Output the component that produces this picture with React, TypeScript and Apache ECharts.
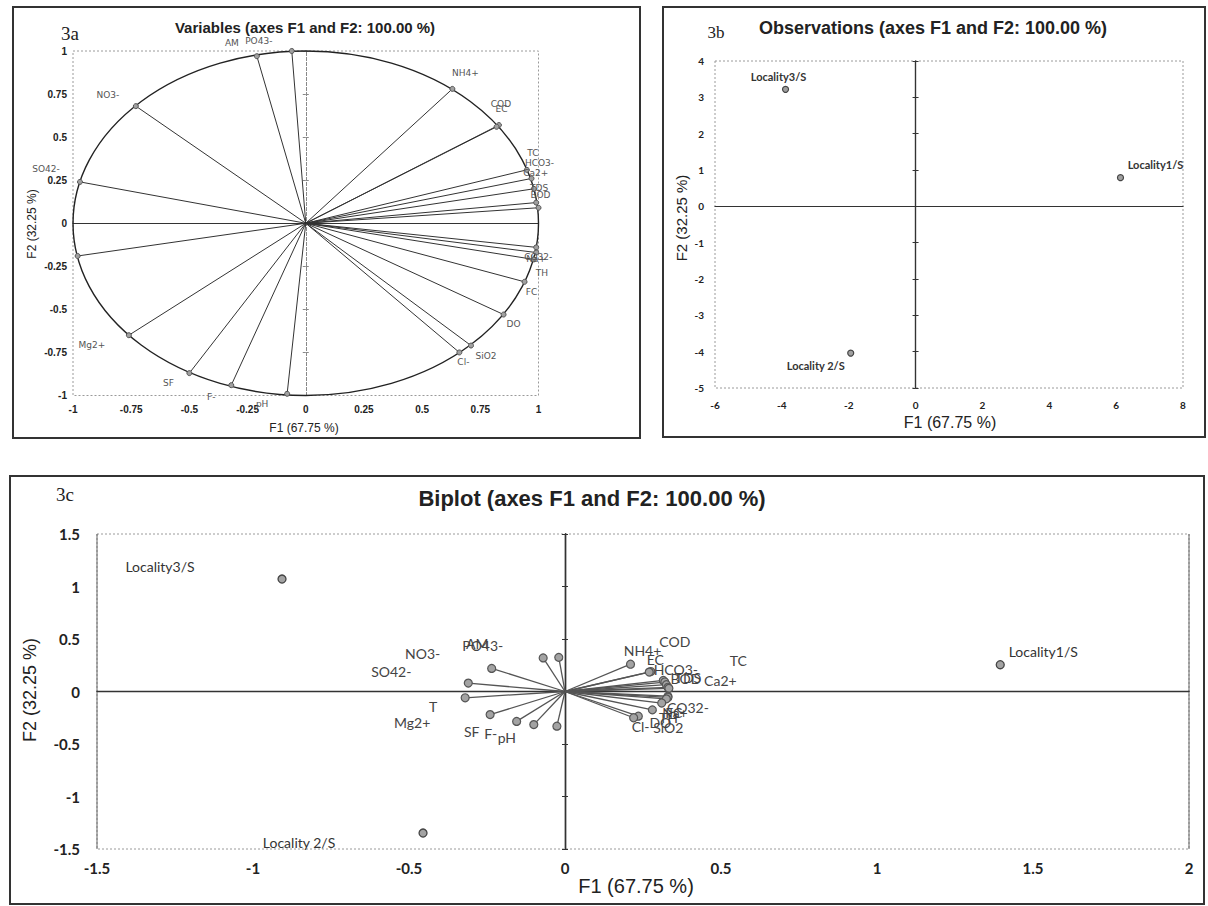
import React, { useEffect, useRef } from "react";
import * as echarts from "echarts";

// ---------- data ----------
const varNames = [
  "AM", "PO43-", "NO3-", "SO42-", "T", "Mg2+", "SF", "F-", "pH",
  "NH4+", "COD", "EC", "TC", "HCO3-", "Ca2+", "TDS", "BOD", "CO32-", "Na+", "TH", "FC", "DO", "SiO2", "Cl-",
];
// 3a correlation circle loadings
const loadF1 = [-0.21, -0.06, -0.73, -0.97, -0.98, -0.76, -0.5, -0.32, -0.08,
  0.63, 0.83, 0.82, 0.95, 0.97, 0.98, 0.99, 1.0, 0.99, 0.99, 0.98, 0.94, 0.85, 0.71, 0.66];
const loadF2 = [0.97, 1.0, 0.68, 0.24, -0.19, -0.65, -0.87, -0.94, -0.99,
  0.78, 0.57, 0.56, 0.31, 0.26, 0.2, 0.12, 0.09, -0.14, -0.17, -0.21, -0.34, -0.53, -0.71, -0.75];
// 3c biplot variable coordinates
const biF1 = [-0.07, -0.02, -0.235, -0.31, -0.32, -0.24, -0.155, -0.1, -0.026,
  0.21, 0.275, 0.27, 0.315, 0.32, 0.325, 0.33, 0.333, 0.33, 0.33, 0.325, 0.31, 0.28, 0.235, 0.22];
const biF2 = [0.32, 0.325, 0.22, 0.08, -0.06, -0.22, -0.285, -0.315, -0.33,
  0.26, 0.19, 0.185, 0.105, 0.09, 0.065, 0.04, 0.03, -0.045, -0.055, -0.07, -0.11, -0.175, -0.235, -0.25];
// observations
const obsNames = ["Locality1/S", "Locality 2/S", "Locality3/S"];
const obsF1 = [6.13, -1.94, -3.89];
const obsF2 = [0.79, -4.04, 3.22];
const biObsF1 = [1.395, -0.455, -0.907];
const biObsF2 = [0.255, -1.348, 1.071];

// ---------- layout (label offsets in px) ----------
const offA: Record<string, number[]> = {
  "AM": [-25, -13], "PO43-": [-33, -10], "NO3-": [-28, -11], "SO42-": [-34, -13], "T": [0, 0],
  "Mg2+": [-37, 10], "SF": [-21, 10], "F-": [-20, 12], "pH": [-25, 10],
  "NH4+": [13, -16], "COD": [2, -21], "EC": [5, -18], "TC": [6, -17], "HCO3-": [8, -15],
  "Ca2+": [2, -16], "TDS": [3, -15], "BOD": [2, -13], "CO32-": [2, 10], "Na+": [0, 6],
  "TH": [8, 14], "FC": [7, 10], "DO": [10, 9], "SiO2": [15, 10], "Cl-": [4, 10],
};
const offC: Record<string, number[]> = {
  "AM": [-66, -14], "PO43-": [-76, -12], "NO3-": [-69, -15], "SO42-": [-77, -12], "T": [-32, 9],
  "Mg2+": [-78, 8], "SF": [-45, 10], "F-": [-43, 9], "pH": [-50, 11],
  "NH4+": [12, -14], "COD": [24, -30], "EC": [6, -13], "TC": [75, -20], "HCO3-": [11, -13],
  "Ca2+": [54, -4], "TDS": [20, -10], "BOD": [17, -10], "CO32-": [20, 11], "Na+": [7, 15],
  "TH": [2, 19], "FC": [12, 9], "DO": [8, 13], "SiO2": [30, 11], "Cl-": [7, 9],
};
const offObsB = [[35, -13], [-35, 12], [-7, -13]];
const offObsC = [[43, -13], [-124, 9], [-122, -13]];

const GA = { left: 73, top: 51, width: 465.5, height: 344.5 };
const GB = { left: 715, top: 61, width: 468, height: 327 };
const GC = { left: 97, top: 534, width: 1092, height: 315 };

const SANS = "Liberation Sans";
const CAL = "Lato";

function mainX(gi: number, min: number, max: number, interval: number, lab: any) {
  return {
    type: "value", gridIndex: gi, min, max, interval, position: "bottom",
    axisLine: { show: false, onZero: false }, axisTick: { show: false },
    splitLine: { show: false }, axisLabel: lab,
  };
}
function mainY(gi: number, min: number, max: number, interval: number, lab: any) {
  return {
    type: "value", gridIndex: gi, min, max, interval, position: "left",
    axisLine: { show: false, onZero: false }, axisTick: { show: false },
    splitLine: { show: false }, axisLabel: lab,
  };
}
function zeroX(gi: number, min: number, max: number, interval: number, yIdx: number, ls: any) {
  return {
    type: "value", gridIndex: gi, min, max, interval, position: "bottom",
    axisLine: { show: true, onZero: true, onZeroAxisIndex: yIdx, lineStyle: ls },
    axisTick: { show: false }, axisLabel: { show: false }, splitLine: { show: false },
  };
}
function zeroY(gi: number, min: number, max: number, interval: number, xIdx: number, ls: any, inside: boolean) {
  return {
    type: "value", gridIndex: gi, min, max, interval, position: "left",
    axisLine: { show: true, onZero: true, onZeroAxisIndex: xIdx, lineStyle: ls },
    axisTick: { show: true, inside, length: 3, lineStyle: { color: ls.color, width: 1 } },
    axisLabel: { show: false }, splitLine: { show: false },
  };
}

function gridBorder(g: any) {
  return {
    type: "rect", silent: true,
    shape: { x: g.left, y: g.top, width: g.width, height: g.height },
    style: { fill: "none", stroke: "#9a9a9a", lineWidth: 1, lineDash: [2, 2] },
  };
}
function txt(text: string, x: number, y: number, size: number, family: string, weight: string, rot = 0, color = "#222") {
  return {
    type: "text", x, y, rotation: rot, silent: true,
    style: { text, fontSize: size, fontFamily: family, fontWeight: weight, fill: color, align: "center", verticalAlign: "middle" },
  };
}

export default function App() {
  const ref = useRef<HTMLDivElement>(null);
  useEffect(() => {
    if (!ref.current) return;
    const chart = echarts.init(ref.current, null, { renderer: "svg" });
    const labA = { fontSize: 10, fontWeight: "bold", fontFamily: SANS, color: "#222" };
    const labB = { fontSize: 10, fontWeight: "bold", fontFamily: CAL, color: "#222" };
    const labC = { fontSize: 15, fontWeight: "bold", fontFamily: CAL, color: "#222" };
    const dark = { color: "#333", width: 1.2, type: "solid" };
    const grayDash = { color: "#888", width: 1, type: [3, 2] };
    const darkC = { color: "#333", width: 1.4, type: "solid" };

    const option: any = {
      animation: false,
      backgroundColor: "#fff",
      grid: [GA, GB, GC],
      xAxis: [
        mainX(0, -1, 1, 0.25, { ...labA, margin: 9 }),
        zeroX(0, -1, 1, 0.25, 0, dark),
        mainX(1, -6, 8, 2, { ...labB, margin: 12 }),
        zeroX(1, -6, 8, 2, 3, dark),
        mainX(2, -1.5, 2, 0.5, { ...labC, margin: 11 }),
        zeroX(2, -1.5, 2, 0.5, 6, darkC),
      ],
      yAxis: [
        mainY(0, -1, 1, 0.25, { ...labA, margin: 6 }),
        zeroY(0, -1, 1, 0.25, 0, grayDash, false),
        zeroY(0, -1, 1, 0.25, 0, grayDash, true),
        mainY(1, -5, 4, 1, { ...labB, margin: 11 }),
        zeroY(1, -5, 4, 1, 2, dark, false),
        zeroY(1, -5, 4, 1, 2, dark, true),
        mainY(2, -1.5, 1.5, 0.5, { ...labC, margin: 17 }),
        zeroY(2, -1.5, 1.5, 0.5, 4, darkC, false),
        zeroY(2, -1.5, 1.5, 0.5, 4, darkC, true),
      ],
      series: [
        // 3a circle
        {
          type: "custom", xAxisIndex: 0, yAxisIndex: 0, data: [[0, 0]], clip: false, silent: true, z: 2,
          renderItem: (_p: any, api: any) => {
            const c = api.coord([0, 0]);
            const s = api.size([1, 1]);
            const rx = s[0], ry = s[1];
            return {
              type: "path",
              shape: {
                pathData: `M ${c[0] - rx} ${c[1]} A ${rx} ${ry} 0 1 0 ${c[0] + rx} ${c[1]} A ${rx} ${ry} 0 1 0 ${c[0] - rx} ${c[1]} Z`,
              },
              style: { fill: "none", stroke: "#222", lineWidth: 1.4 },
            };
          },
        },
        // 3a vectors
        {
          type: "lines", coordinateSystem: "cartesian2d", xAxisIndex: 0, yAxisIndex: 0, silent: true, z: 3,
          lineStyle: { color: "#333", width: 1, opacity: 1 },
          data: varNames.map((_n, i) => ({ coords: [[0, 0], [loadF1[i], loadF2[i]]] })),
        },
        {
          type: "scatter", xAxisIndex: 0, yAxisIndex: 0, symbolSize: 5, z: 5,
          itemStyle: { color: "#a0a0a0", borderColor: "#555", borderWidth: 1, opacity: 1 },
          label: { show: true, position: "inside", formatter: "{b}", fontSize: 9, fontFamily: "DejaVu Sans", color: "#555" },
          data: varNames.map((n, i) => ({
            name: n, value: [loadF1[i], loadF2[i]],
            label: { show: n !== "T", offset: offA[n] },
          })),
        },
        // 3b observations
        {
          type: "scatter", xAxisIndex: 2, yAxisIndex: 3, symbolSize: 6, z: 5,
          itemStyle: { color: "#a0a0a0", borderColor: "#444", borderWidth: 1.2, opacity: 1 },
          label: { show: true, position: "inside", formatter: "{b}", fontSize: 11, fontWeight: "bold", fontFamily: CAL, color: "#333" },
          data: obsNames.map((n, i) => ({ name: n, value: [obsF1[i], obsF2[i]], label: { offset: offObsB[i] } })),
        },
        // 3c vectors
        {
          type: "lines", coordinateSystem: "cartesian2d", xAxisIndex: 4, yAxisIndex: 6, silent: true, z: 3,
          lineStyle: { color: "#555", width: 1.3, opacity: 1 },
          data: varNames.map((_n, i) => ({ coords: [[0, 0], [biF1[i], biF2[i]]] })),
        },
        {
          type: "scatter", xAxisIndex: 4, yAxisIndex: 6, symbolSize: 8, z: 5,
          itemStyle: { color: "#a3a3a3", borderColor: "#555", borderWidth: 1.2, opacity: 1 },
          label: { show: true, position: "inside", formatter: "{b}", fontSize: 14, fontFamily: CAL, color: "#444" },
          data: varNames.map((n, i) => ({ name: n, value: [biF1[i], biF2[i]], label: { offset: offC[n] } })),
        },
        {
          type: "scatter", xAxisIndex: 4, yAxisIndex: 6, symbolSize: 8, z: 5,
          itemStyle: { color: "#a3a3a3", borderColor: "#444", borderWidth: 1.3, opacity: 1 },
          label: { show: true, position: "inside", formatter: "{b}", fontSize: 14, fontFamily: CAL, color: "#333" },
          data: obsNames.map((n, i) => ({ name: n, value: [biObsF1[i], biObsF2[i]], label: { offset: offObsC[i] } })),
        },
      ],
      graphic: [
        // panel boxes
        { type: "rect", silent: true, shape: { x: 13, y: 7, width: 627, height: 431 }, style: { fill: "none", stroke: "#333", lineWidth: 2 } },
        { type: "rect", silent: true, shape: { x: 663, y: 7, width: 542, height: 430 }, style: { fill: "none", stroke: "#333", lineWidth: 2 } },
        { type: "rect", silent: true, shape: { x: 10, y: 476, width: 1194, height: 428 }, style: { fill: "none", stroke: "#333", lineWidth: 2 } },
        gridBorder(GA), gridBorder(GB), gridBorder(GC),
        { type: "line", silent: true, shape: { x1: GC.left, y1: GC.top, x2: GC.left, y2: GC.top + GC.height }, style: { stroke: "#666", lineWidth: 1 } },
        { type: "line", silent: true, shape: { x1: GC.left + GC.width, y1: GC.top, x2: GC.left + GC.width, y2: GC.top + GC.height }, style: { stroke: "#666", lineWidth: 1 } },
        // panel tags & titles
        txt("3a", 70, 33, 19, "Liberation Serif", "normal"),
        txt("Variables (axes F1 and F2: 100.00 %)", 305, 27, 15, SANS, "bold"),
        txt("3b", 716, 32, 17, "Liberation Serif", "normal"),
        txt("Observations (axes F1 and F2: 100.00 %)", 933, 28, 18, SANS, "bold"),
        txt("3c", 65, 494, 19, "Liberation Serif", "normal"),
        txt("Biplot (axes F1 and F2: 100.00 %)", 592, 498, 22, SANS, "bold"),
        // axis names
        txt("F1 (67.75 %)", 304, 428, 12, SANS, "normal"),
        txt("F2 (32.25 %)", 32, 224, 12, SANS, "normal", Math.PI / 2),
        txt("F1 (67.75 %)", 950, 422, 16, SANS, "normal"),
        txt("F2 (32.25 %)", 681, 218, 15, SANS, "normal", Math.PI / 2),
        txt("F1 (67.75 %)", 636, 886, 20, SANS, "normal"),
        txt("F2 (32.25 %)", 30, 690, 18, SANS, "normal", Math.PI / 2),
      ],
    };
    chart.setOption(option);
    return () => chart.dispose();
  }, []);
  return (
    <div
      ref={ref}
      style={{ position: "fixed", left: 0, top: 0, width: 1208, height: 906, background: "#fff" }}
    />
  );
}
